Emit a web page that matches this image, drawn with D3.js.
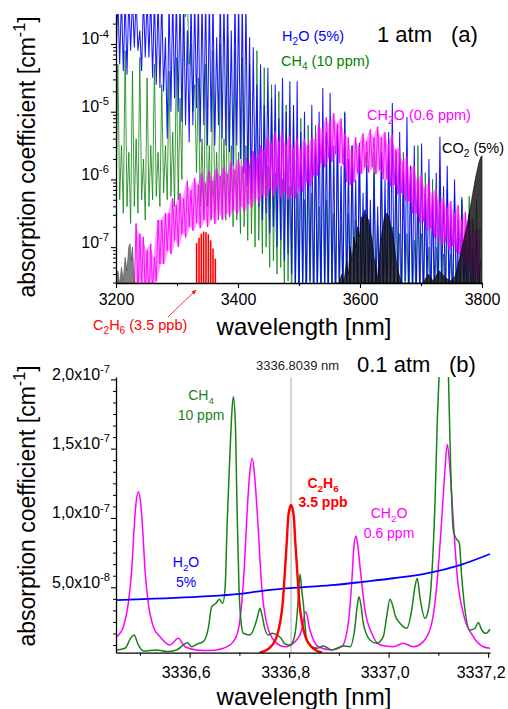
<!DOCTYPE html>
<html><head><meta charset="utf-8">
<script src="https://cdn.jsdelivr.net/npm/d3@7"></script>
<style>
body{margin:0;background:#fff;}
svg{display:block;font-family:Arial,"Liberation Sans",Helvetica,sans-serif;}
</style></head><body>
<svg id="chart" width="508" height="709"></svg>
<script>
// ================= DATA =================
// Panel (a): 1 atm overview, log10 of absorption coefficient [cm-1]
// spectra sampled in 6 nm cells starting at 3200 nm: a valley (lo) and a peak (hi) per cell
const cellStart = 3200, cellStep = 6, cellCount = 100;
const h2oHi = [-3.3,-3.3,-3.3,-3.3,-3.3,-3.3,-3.8,-3.3,-3.3,-3.3,
 -3.3,-3.3,-3.3,-3.9,-3.3,-3.3,-3.3,-3.3,-3.3,-3.8,
 -3.3,-3.3,-3.3,-3.3,-3.3,-3.3,-3.3,-3.9,-3.3,-3.3,
 -3.3,-3.8,-3.3,-3.3,-3.3,-3.3,-3.9,-4.05,-4.6,-4.3,
 -4.9,-4.35,-4.8,-4.6,-5.1,-4.5,-5.0,-4.55,-4.9,-4.55,
 -5.3,-5.0,-5.5,-4.9,-5.4,-5.0,-4.65,-5.3,-4.72,-5.5,
 -5.2,-5.8,-5.02,-5.7,-5.5,-6.0,-5.46,-6.2,-5.8,-6.3,
 -5.9,-6.4,-5.6,-6.0,-5.3,-4.87,-5.6,-5.3,-5.9,-5.08,
 -5.8,-5.5,-6.1,-5.47,-6.2,-5.7,-6.3,-5.9,-5.37,-6.1,
 -5.8,-6.5,-6.0,-6.6,-6.26,-6.9,-6.5,-7.0,-6.75,-7.2];
const h2oLo = [-4.3,-4.3,-4.4,-4.45,-4.1,-4.05,-4.1,-4.4,-4.2,-4.2,
 -4.5,-4.6,-4.65,-4.7,-5.4,-5.0,-4.8,-5.0,-5.15,-5.2,
 -5.45,-5.2,-4.95,-5.45,-5.2,-5.5,-5.3,-5.5,-5.2,-5.4,
 -5.5,-5.6,-5.8,-5.5,-5.7,-5.9,-6.1,-6.3,-6.2,-6.4,
 -6.6,-6.5,-6.8,-6.7,-7.0,-6.9,-7.2,-7.1,-7.4,-7.8,
 -7.9,-7.6,-7.9,-7.5,-7.9,-7.8,-7.9,-7.6,-7.9,-7.7,
 -7.9,-7.6,-7.9,-7.8,-7.9,-7.5,-7.9,-7.8,-7.9,-7.6,
 -7.9,-7.7,-7.9,-7.8,-7.9,-7.6,-7.9,-7.8,-7.9,-7.5,
 -7.9,-7.7,-7.9,-7.8,-7.9,-7.6,-7.9,-7.8,-7.9,-7.6,
 -7.9,-7.7,-7.9,-7.8,-7.9,-7.6,-7.9,-7.8,-7.9,-7.8];
const ch4Hi = [-4.3,-5.5,-4.1,-5.6,-4.4,-5.4,-4.2,-5.7,-4.5,-5.5,
 -4.3,-5.6,-4.6,-5.5,-4.4,-5.3,-4.2,-4.8,-3.3,-3.3,
 -4.0,-4.6,-4.5,-5.4,-4.3,-5.5,-4.1,-5.6,-4.0,-5.4,
 -3.9,-5.5,-4.1,-5.6,-4.2,-5.5,-4.3,-5.6,-4.1,-5.7,
 -4.35,-5.8,-4.6,-5.9,-4.7,-6.0,-4.9,-6.1,-5.0,-6.2,
 -5.1,-6.3,-5.2,-6.2,-5.2,-6.4,-5.4,-6.3,-5.3,-6.5,
 -5.4,-6.4,-5.0,-6.5,-5.5,-6.6,-5.5,-6.5,-5.6,-6.6,
 -5.6,-6.7,-5.7,-6.6,-5.6,-6.7,-5.7,-6.8,-5.6,-6.8,
 -5.8,-6.9,-5.5,-6.8,-5.9,-7.0,-6.0,-7.0,-6.1,-7.1,
 -6.16,-7.1,-6.2,-7.2,-6.3,-7.2,-6.25,-7.3,-6.3,-7.2];
const ch4Lo = [-6.45,-6.3,-6.5,-6.4,-6.65,-6.4,-6.5,-6.3,-6.6,-6.4,
 -6.3,-6.25,-6.4,-6.2,-6.3,-6.25,-6.4,-6.3,-6.0,-3.6,
 -4.3,-5.0,-5.9,-6.4,-6.5,-6.4,-6.6,-6.5,-6.6,-6.4,
 -6.6,-6.5,-6.7,-6.6,-6.8,-6.7,-6.9,-6.8,-7.0,-6.9,
 -7.1,-7.0,-7.3,-7.2,-7.4,-7.3,-7.6,-7.5,-7.8,-7.6,
 -7.9,-7.7,-7.9,-7.8,-7.9,-7.7,-7.9,-7.8,-7.9,-7.7,
 -7.9,-7.8,-7.9,-7.7,-7.9,-7.8,-7.9,-7.7,-7.9,-7.8,
 -7.9,-7.7,-7.9,-7.8,-7.9,-7.7,-7.9,-7.8,-7.9,-7.7,
 -7.9,-7.8,-7.9,-7.7,-7.9,-7.8,-7.9,-7.7,-7.9,-7.8,
 -7.9,-7.7,-7.9,-7.8,-7.9,-7.7,-7.9,-7.8,-7.9,-7.7];
const ch2oFirstCell = 5;
const ch2oHi = [-6.65,-6.8,-6.85,-7.05,-6.95,-7.15,-6.6,-6.6,-6.5,-6.5,
 -6.28,-6.38,-6.2,-6.28,-6.02,-6.16,-5.98,-6.08,-5.9,-6.06,
 -5.88,-6.02,-5.84,-5.95,-5.82,-5.92,-5.74,-5.86,-5.7,-5.82,
 -5.68,-5.78,-5.58,-5.68,-5.5,-5.58,-5.38,-5.48,-5.3,-5.44,
 -5.32,-5.5,-5.36,-5.54,-5.4,-5.56,-5.4,-5.52,-5.38,-5.42,
 -5.18,-5.28,-5.08,-5.2,-5.02,-5.18,-5.1,-5.32,-5.38,-5.6,
 -5.38,-5.52,-5.32,-5.44,-5.26,-5.38,-5.22,-5.38,-5.3,-5.48,
 -5.34,-5.56,-5.52,-5.74,-5.66,-5.86,-5.8,-6.0,-5.92,-6.12,
 -6.04,-6.22,-6.14,-6.34,-6.26,-6.42,-6.32,-6.5,-6.38,-6.6,
 -6.48,-6.7,-6.58,-6.78,-6.72];
const ch2oLo = [-7.6,-7.75,-7.55,-7.7,-7.85,-7.65,-7.5,-7.25,-7.25,-7.05,
 -7.1,-6.9,-7.0,-6.8,-6.86,-6.7,-6.76,-6.64,-6.72,-6.6,
 -6.7,-6.56,-6.66,-6.52,-6.6,-6.5,-6.56,-6.44,-6.52,-6.4,
 -6.48,-6.36,-6.42,-6.28,-6.35,-6.22,-6.28,-6.14,-6.24,-6.12,
 -6.26,-6.18,-6.3,-6.22,-6.28,-6.14,-6.18,-6.04,-6.1,-5.94,
 -5.94,-5.76,-5.82,-5.68,-5.74,-5.62,-5.76,-5.78,-6.04,-6.08,
 -6.04,-5.9,-5.92,-5.82,-5.9,-5.82,-5.92,-5.86,-6.0,-6.0,
 -6.1,-6.08,-6.22,-6.2,-6.32,-6.32,-6.5,-6.5,-6.64,-6.62,
 -6.76,-6.72,-6.86,-6.84,-6.96,-6.92,-7.04,-6.98,-7.08,-7.1,
 -7.28,-7.3,-7.44,-7.4,-7.52];
const co2Wl = [3200,3203,3206,3209,3212,3215,3218,3221,3223,3225,3227,3230,3233,3236,
 3555,3560,3565,3570,3574,3578,3581,3584,3587,3590,3593,3596,3599,3602,3605,3608,3611,3614,3617,3620,3623,3626,3628,
 3631,3634,3637,3640,3643,3646,3649,3652,3655,3658,3661,3664,3667,3671,3676,3682,
 3700,3705,3712,3720,3730,3740,3748,3755,3760,3765,3770,3775,3780,3785,3790,3795,3798,3800];
const co2Exp = [-7.6,-7.35,-7.55,-7.3,-7.5,-7.15,-7.35,-7.0,-6.95,-7.2,-7.0,-7.5,-7.8,-8.5,
 -8.5,-7.8,-7.55,-7.4,-7.5,-7.2,-7.4,-7.0,-7.2,-6.85,-7.0,-6.7,-6.85,-6.55,-6.62,-6.45,-6.55,-6.6,-6.78,-6.9,-7.15,-7.3,-7.5,
 -7.2,-6.9,-6.72,-6.56,-6.5,-6.52,-6.62,-6.75,-6.9,-7.1,-7.3,-7.4,-7.5,-7.6,-7.75,-8.5,
 -8.5,-7.5,-7.4,-7.5,-7.35,-7.45,-7.5,-7.45,-7.3,-7.1,-6.9,-6.7,-6.45,-6.2,-5.95,-5.75,-5.67,-5.65];
const c2h6Wl  = [3332.2,3336.1,3339.9,3343.7,3347.5,3351.4,3355.2,3359.0,3362.8];
const c2h6Exp = [-6.94,-6.86,-6.80,-6.77,-6.78,-6.81,-6.90,-7.02,-7.17];
const aXTicks = [3200,3400,3600,3800];
const aXMinor = [3300,3500,3700];
const aYTickExp = [-7,-6,-5,-4];

// Panel (b): 0.1 atm zoom, absorption coefficient in units of 1e-8 cm-1
const bH2oWl  = [3336.452,3336.6208,3336.7012,3336.7581,3336.8253,3336.8922,3336.9525,3337.0094,3337.0765,3337.1434,3337.2038];
const bH2oVal = [4.08,4.32,4.52,4.8,5.0,5.17,5.41,5.65,6.0,6.6,7.4];
const bCh2oWl = [3336.4534,3336.4667,3336.4767,3336.4836,3336.4882,3336.4922,3336.4968,3336.5016,3336.5057,3336.5103,
 3336.5169,3336.5270,3336.5404,3336.5605,3336.5772,3336.5907,3336.6142,3336.6409,3336.6677,3336.6878,
 3336.6978,3336.7047,3336.7103,3336.7147,3336.7203,3336.7260,3336.7314,3336.7368,3336.7449,3336.7549,
 3336.7716,3336.7917,3336.8118,3336.8253,3336.8333,3336.8419,3336.8586,3336.8856,3336.9057,3336.9189,
 3336.9258,3336.9304,3336.9344,3336.9384,3336.9425,3336.9525,3336.9660,3336.9827,3337.0094,3337.0295,
 3337.0496,3337.0697,3337.0866,3337.0966,3337.1067,3337.1133,3337.1179,3337.1234,3337.1300,3337.1380,
 3337.1501,3337.1702,3337.1903,3337.2038];
const bCh2oVal = [1.44,2.16,3.85,6.25,9.13,11.06,11.9,11.06,9.13,6.25,
 3.85,2.16,1.44,0.84,1.32,0.71,0.48,0.43,0.6,1.08,
 1.92,3.85,6.6,9.86,13.0,14.3,12.7,9.86,5.04,2.4,
 1.08,0.71,1.08,1.92,3.24,1.92,0.71,0.48,0.71,2.4,
 5.29,8.0,8.7,7.9,6.49,3.36,1.68,0.84,0.71,0.96,
 0.71,1.08,2.4,5.04,9.86,13.5,15.3,13.5,9.86,5.77,
 3.12,1.44,0.71,0.6];
const bCh4Wl = [3336.4534,3336.4701,3336.4815,3336.4882,3336.4968,3336.5069,3336.5338,3336.5539,3336.5740,3336.5873,
 3336.5953,3336.6042,3336.6154,3336.6275,3336.6375,3336.6444,3336.6530,3336.6596,3336.6665,3336.6711,
 3336.6757,3336.6811,3336.6852,3336.6878,3336.6918,3336.6952,3336.6992,3336.7033,3336.7079,3336.7213,
 3336.7328,3336.7374,3336.7414,3336.7455,3336.7501,3336.7581,3336.7662,3336.7750,3336.7837,3336.7917,
 3336.8017,3336.8098,3336.8148,3336.8184,3336.8219,3336.8253,3336.8285,3336.8353,3336.8454,3336.8560,
 3336.8687,3336.8856,3336.8962,3336.9089,3336.9223,3336.9324,3336.9364,3336.9404,3336.9445,3336.9491,
 3336.9626,3336.9760,3336.9893,3336.9961,3337.0027,3337.0088,3337.0128,3337.0229,3337.0363,3337.0464,
 3337.0530,3337.0576,3337.0631,3337.0731,3337.0798,3337.0866,3337.0932,3337.0979,3337.1019,3337.1063,
 3337.1110,3337.1154,3337.1200,3337.1248,3337.1300,3337.1354,3337.1420,3337.1469,3337.1535,3337.1636,
 3337.1736,3337.1803,3337.1871,3337.1958,3337.2038];
const bCh4Val = [0.48,0.6,1.32,1.56,0.84,0.4,0.48,0.36,0.48,0.84,
 1.0,0.71,0.91,1.08,2.04,3.6,3.85,4.13,3.85,4.8,
 9.86,14.7,17.8,18.75,17.0,11.0,5.0,2.5,1.68,1.56,
 2.4,3.0,3.48,3.0,2.16,1.56,1.68,1.56,1.32,0.91,
 0.84,1.3,2.5,4.2,5.96,4.8,3.85,1.2,0.71,0.6,
 0.77,0.48,0.6,0.77,0.71,2.16,3.5,4.32,3.7,2.4,
 1.2,0.96,1.44,2.88,4.13,3.6,3.0,2.4,2.04,3.36,
 5.04,5.65,4.25,2.76,3.36,5.77,11.06,17.07,20.7,26,
 29,26,20.7,13.5,9.1,8.54,8.2,5.77,3.36,1.92,
 2.04,2.45,1.92,1.68,1.97];
const bC2h6Wl  = [3336.7405,3336.7581,3336.7750,3336.7816,3336.7871,3336.7917,3336.7951,3336.7983,3336.8011,3336.8039,
 3336.8066,3336.8094,3336.8126,3336.8161,3336.8207,3336.8261,3336.8328,3336.8497,3336.8664];
const bC2h6Val = [0.28,0.55,1.44,2.4,3.85,6.25,8.17,10.1,10.7,10.94,10.7,10.1,8.17,6.25,3.85,2.4,1.44,0.55,0.28];
const bMarkerWl = 3336.8039;
const bXTicks = [3336.6,3336.8,3337.0,3337.2];
const bXTickLabels = ["3336,6","3336,8","3337,0","3337,2"];
const bXMinor = [3336.5,3336.7,3336.9,3337.1];
const bYTicks = [5,10,15,20];
const bYTickMant = ["5,0","1,0","1,5","2,0"];
const bYTickExp = ["-8","-7","-7","-7"];

// ================= DRAWING =================
const svg = d3.select("#chart");
const C = {h2o:"#0000ff", ch4:"#008000", ch2o:"#ff00ff", co2:"#000000", c2h6:"#ff0000"};

function rich(textSel, parts, base){
  let cur = 0;
  parts.forEach(p=>{
    const target = p[1]==="sub" ? base*0.3 : (p[1]==="sup" ? -base*0.42 : 0);
    const t = textSel.append("tspan").text(p[0]).attr("dy", (target-cur));
    if(p[1]!=="n") t.attr("font-size", base*0.7);
    cur = target;
  });
  return textSel;
}
function label(x,y,parts,opts){
  const o = Object.assign({size:14,color:"#000",anchor:"start",weight:"normal"},opts||{});
  const t = svg.append("text").attr("x",x).attr("y",y).attr("font-size",o.size)
    .attr("fill",o.color).attr("text-anchor",o.anchor).attr("font-weight",o.weight);
  return rich(t, parts, o.size);
}

// ---------- Panel A ----------
const xA = d3.scaleLinear().domain([3200,3800]).range([116,482]);
const yA = d3.scaleLog().domain([Math.pow(10,-7.53), Math.pow(10,-3.557)]).range([283,14]);
const defs = svg.append("defs");
defs.append("clipPath").attr("id","clipA").append("rect").attr("x",116).attr("y",14).attr("width",367).attr("height",269);
defs.append("clipPath").attr("id","clipB").append("rect").attr("x",116).attr("y",377).attr("width",375).attr("height",276);
const gA = svg.append("g").attr("clip-path","url(#clipA)");
const cellWl = d3.range(cellCount).map(k=>cellStart+k*cellStep);
const ya = e => yA(Math.pow(10,e));
const lineA = d3.line().x(d=>xA(d[0])).y(d=>ya(d[1]));
function zig(hi, lo, first){
  const pts=[];
  hi.forEach((h,i)=>{ const w = cellWl[i+first]; pts.push([w, lo[i]]); pts.push([w+cellStep/2, h]); });
  return pts;
}
gA.append("path").attr("d", lineA(zig(ch4Hi,ch4Lo,0))).attr("fill","none").attr("stroke",C.ch4).attr("stroke-width",0.9).attr("stroke-opacity",0.85);
gA.append("path").attr("d", lineA(zig(h2oHi,h2oLo,0))).attr("fill","none").attr("stroke",C.h2o).attr("stroke-width",1.05).attr("stroke-opacity",0.9);
const areaCh2o = d3.area().x(i=>xA(cellWl[i+ch2oFirstCell]+cellStep/4)).y0(i=>ya(ch2oLo[i])).y1(i=>ya(ch2oHi[i]));
gA.append("path").attr("d", areaCh2o(d3.range(ch2oHi.length))).attr("fill",C.ch2o).attr("fill-opacity",0.4);
gA.append("path").attr("d", lineA(zig(ch2oHi,ch2oLo,ch2oFirstCell))).attr("fill","none").attr("stroke",C.ch2o).attr("stroke-width",0.9);
const co2Idx = d3.range(co2Wl.length);
const areaCo2 = d3.area().x(i=>xA(co2Wl[i])).y0(283).y1(i=>ya(co2Exp[i]));
gA.append("path").attr("d", areaCo2(co2Idx.filter(i=>co2Wl[i]<3300))).attr("fill","#555").attr("fill-opacity",0.75).attr("stroke","#444").attr("stroke-width",0.6);
gA.append("path").attr("d", areaCo2(co2Idx.filter(i=>co2Wl[i]>=3300))).attr("fill","#111").attr("fill-opacity",0.82).attr("stroke","#000").attr("stroke-width",0.6);
gA.selectAll("line.c2h6").data(c2h6Wl).enter().append("line").attr("class","c2h6")
  .attr("x1",d=>xA(d)).attr("x2",d=>xA(d)).attr("y1",283).attr("y2",(d,i)=>ya(c2h6Exp[i]))
  .attr("stroke",C.c2h6).attr("stroke-width",1.6);

// axes A
function styleAxis(g){
  g.select(".domain").attr("stroke","#000").attr("stroke-width",1.3);
  g.selectAll(".tick line").attr("stroke","#000").attr("stroke-width",1.1);
  g.selectAll("text").attr("font-size",16).attr("fill","#000").attr("font-family",null);
}
const axAx = svg.append("g").attr("transform","translate(0,283)")
  .call(d3.axisBottom(xA).tickValues(aXTicks).tickSize(5).tickSizeOuter(0).tickPadding(6).tickFormat(d3.format("d")));
styleAxis(axAx);
const axAxm = svg.append("g").attr("transform","translate(0,283)")
  .call(d3.axisBottom(xA).tickValues(aXMinor).tickSize(3).tickSizeOuter(0).tickFormat(""));
axAxm.select(".domain").remove(); axAxm.selectAll(".tick line").attr("stroke","#000").attr("stroke-width",1.1);

const axAy = svg.append("g").attr("transform","translate(116,0)")
  .call(d3.axisLeft(yA).tickValues(aYTickExp.map(e=>Math.pow(10,e))).tickSize(5).tickSizeOuter(0).tickPadding(2).tickFormat(""));
styleAxis(axAy);
axAy.selectAll(".tick text").each(function(d,i){
  const t = d3.select(this).attr("dy","0.36em");
  rich(t, [["10","n"],[String(aYTickExp[i]),"sup"]], 16);
});
const aYMinor = [];
[-8,-7,-6,-5,-4].forEach(e=>{ for(let m=2;m<=9;m++){ const v=m*Math.pow(10,e); if(v>yA.domain()[0] && v<yA.domain()[1]) aYMinor.push(v);} });
const axAym = svg.append("g").attr("transform","translate(116,0)")
  .call(d3.axisLeft(yA).tickValues(aYMinor).tickSize(3).tickSizeOuter(0).tickFormat(""));
axAym.select(".domain").remove(); axAym.selectAll(".tick line").attr("stroke","#000").attr("stroke-width",1);

// titles A
svg.append("text").attr("transform","translate(35,157) rotate(-90)").attr("text-anchor","middle").attr("font-size",23)
  .call(t=>rich(t,[["absorption coefficient [cm","n"],["-1","sup"],["]","n"]],23));
svg.append("text").attr("x",304).attr("y",335).attr("text-anchor","middle").attr("font-size",24).text("wavelength [nm]");
svg.append("text").attr("x",377).attr("y",42).attr("font-size",22).text("1 atm");
svg.append("text").attr("x",451).attr("y",42).attr("font-size",22).text("(a)");
label(282,41,[["H","n"],["2","sub"],["O (5%)","n"]],{color:C.h2o,size:14.5});
label(281,66,[["CH","n"],["4","sub"],[" (10 ppm)","n"]],{color:C.ch4,size:14.5});
label(367,120,[["CH","n"],["2","sub"],["O (0.6 ppm)","n"]],{color:C.ch2o,size:14.5});
label(442,153,[["CO","n"],["2","sub"],[" (5%)","n"]],{color:"#000",size:14.5});
label(93,330,[["C","n"],["2","sub"],["H","n"],["6","sub"],[" (3.5 ppb)","n"]],{color:C.c2h6,size:14.5});
// arrow
defs.append("marker").attr("id","arr").attr("viewBox","0 0 10 10").attr("refX",9).attr("refY",5)
  .attr("markerWidth",6).attr("markerHeight",6).attr("orient","auto")
  .append("path").attr("d","M0,1 L10,5 L0,9 z").attr("fill",C.c2h6);
svg.append("line").attr("x1",168).attr("y1",317).attr("x2",196).attr("y2",290)
  .attr("stroke",C.c2h6).attr("stroke-width",0.8).attr("marker-end","url(#arr)");

// ---------- Panel B ----------
const xB = d3.scaleLinear().domain([3336.452,3337.2038]).range([116,490]);
const yB = d3.scaleLinear().domain([0.28,20.17]).range([652.7,377]);
const gB = svg.append("g").attr("clip-path","url(#clipB)");
gB.append("line").attr("x1",xB(bMarkerWl)).attr("x2",xB(bMarkerWl)).attr("y1",377).attr("y2",652.7)
  .attr("stroke","#c8c8c8").attr("stroke-width",1.5);
const lineB = (wl,val)=> d3.line().curve(d3.curveMonotoneX).x((d,i)=>xB(wl[i])).y(d=>yB(d))(val);
gB.append("path").attr("d",lineB(bCh2oWl,bCh2oVal)).attr("fill","none").attr("stroke",C.ch2o).attr("stroke-width",1.5);
gB.append("path").attr("d",lineB(bCh4Wl,bCh4Val)).attr("fill","none").attr("stroke","#1a801a").attr("stroke-width",1.5);
gB.append("path").attr("d",lineB(bH2oWl,bH2oVal)).attr("fill","none").attr("stroke",C.h2o).attr("stroke-width",1.8);
gB.append("path").attr("d",lineB(bC2h6Wl,bC2h6Val)).attr("fill","none").attr("stroke",C.c2h6).attr("stroke-width",2.4);

const axBx = svg.append("g").attr("transform","translate(0,652.7)")
  .call(d3.axisBottom(xB).tickValues(bXTicks).tickSize(5).tickSizeOuter(0).tickPadding(9).tickFormat((d,i)=>bXTickLabels[i]));
styleAxis(axBx);
axBx.selectAll(".tick text").attr("x",-4);
axBx.selectAll(".tick text").filter((d,i)=>i===bXTicks.length-1).attr("text-anchor","end").attr("x",17);
const axBxm = svg.append("g").attr("transform","translate(0,652.7)")
  .call(d3.axisBottom(xB).tickValues(bXMinor).tickSize(3).tickSizeOuter(0).tickFormat(""));
axBxm.select(".domain").remove(); axBxm.selectAll(".tick line").attr("stroke","#000").attr("stroke-width",1.1);
const axBy = svg.append("g").attr("transform","translate(116,0)")
  .call(d3.axisLeft(yB).tickValues(bYTicks).tickSize(5).tickSizeOuter(0).tickPadding(1).tickFormat(""));
styleAxis(axBy);
axBy.selectAll(".tick text").each(function(d,i){
  const t = d3.select(this).attr("dy","0.36em");
  rich(t, [[bYTickMant[i]+"x10","n"],[bYTickExp[i],"sup"]], 16);
});
const bYMinor = d3.range(1,25).map(k=>k*5/6).filter(v=>v>0.28 && v<20.1 && Math.abs(v/5-Math.round(v/5))>1e-6);
const axBym = svg.append("g").attr("transform","translate(116,0)")
  .call(d3.axisLeft(yB).tickValues(bYMinor).tickSize(3).tickSizeOuter(0).tickFormat(""));
axBym.select(".domain").remove(); axBym.selectAll(".tick line").attr("stroke","#000").attr("stroke-width",1);

svg.append("text").attr("transform","translate(35,506) rotate(-90)").attr("text-anchor","middle").attr("font-size",23)
  .call(t=>rich(t,[["absorption coefficient [cm","n"],["-1","sup"],["]","n"]],23));
svg.append("text").attr("x",304).attr("y",705).attr("text-anchor","middle").attr("font-size",24).text("wavelength [nm]");
svg.append("text").attr("x",256).attr("y",370).attr("font-size",13).attr("fill","#222").text("3336.8039 nm");
svg.append("text").attr("x",357).attr("y",372).attr("font-size",22).text("0.1 atm");
svg.append("text").attr("x",449).attr("y",372).attr("font-size",22).text("(b)");
label(201,400,[["CH","n"],["4","sub"]],{color:"#1a801a",size:14,anchor:"middle"});
label(201,420,[["10 ppm","n"]],{color:"#1a801a",size:14,anchor:"middle"});
label(323,488,[["C","n"],["2","sub"],["H","n"],["6","sub"]],{color:C.c2h6,size:14,anchor:"middle",weight:"bold"});
label(323,507,[["3.5 ppb","n"]],{color:C.c2h6,size:14,anchor:"middle",weight:"bold"});
label(389,518,[["CH","n"],["2","sub"],["O","n"]],{color:C.ch2o,size:14,anchor:"middle"});
label(389,538,[["0.6 ppm","n"]],{color:C.ch2o,size:14,anchor:"middle"});
label(186,567,[["H","n"],["2","sub"],["O","n"]],{color:C.h2o,size:14,anchor:"middle"});
label(186,587,[["5%","n"]],{color:C.h2o,size:14,anchor:"middle"});
</script></body></html>
